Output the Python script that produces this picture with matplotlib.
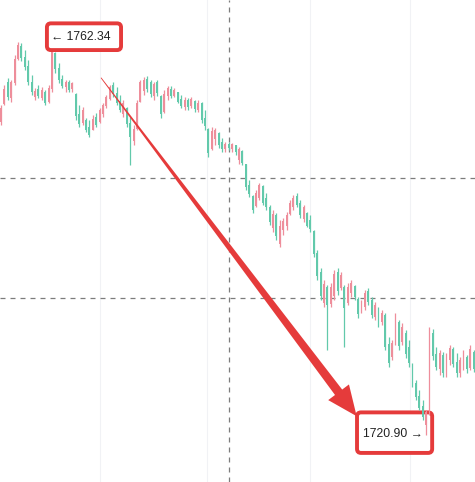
import numpy as np
import matplotlib
matplotlib.use("Agg")
import matplotlib.pyplot as plt
from matplotlib.patches import Polygon, FancyBboxPatch
from matplotlib.transforms import IdentityTransform

# ---------------------------------------------------------------------------
# Candle data (price), red = up, green = down
# ---------------------------------------------------------------------------
opens = [
    1753.8, 1755.6, 1758.0, 1756.3, 1757.8, 1760.4, 1761.7, 1760.6, 1759.6, 1758.0,
    1756.4, 1757.2, 1756.3, 1756.9, 1755.9, 1757.2, 1761.0, 1759.4, 1758.3, 1757.4,
    1758.0, 1757.2, 1756.7, 1754.6, 1753.6, 1754.0, 1753.2, 1752.9, 1754.3, 1753.8,
    1754.6, 1755.4, 1756.2, 1757.6, 1756.8, 1756.0, 1754.6, 1755.2, 1753.6, 1751.8,
    1753.0, 1755.9, 1757.0, 1758.3, 1757.9, 1756.5, 1757.9, 1756.5, 1754.8, 1756.5,
    1757.2, 1756.5, 1756.9, 1756.2, 1755.3, 1756.1, 1755.4, 1756.0, 1755.0, 1755.8,
    1754.2, 1753.0, 1750.9, 1752.0, 1752.6, 1751.7, 1750.9, 1751.5, 1750.9, 1751.3,
    1749.8, 1750.7, 1749.3, 1747.2, 1746.0, 1744.9, 1745.8, 1747.0, 1745.8, 1744.8,
    1742.6, 1744.0, 1741.0, 1742.4, 1742.8, 1744.1, 1744.8, 1746.0, 1745.3, 1743.6,
    1744.2, 1743.5, 1742.3, 1740.0, 1738.0, 1734.8, 1736.5, 1734.7, 1735.5, 1738.0,
    1736.3, 1736.5, 1734.8, 1735.8, 1736.6, 1735.2, 1734.0, 1734.4, 1736.0, 1735.1,
    1733.3, 1734.2, 1732.8, 1733.5, 1730.5, 1729.1, 1730.8, 1732.8, 1730.7, 1731.6,
    1730.2, 1728.4, 1726.4, 1725.0, 1724.0, 1722.0, 1723.3, 1731.6, 1729.4, 1727.9,
    1729.3, 1727.5, 1728.8, 1730.0, 1728.6, 1727.4, 1728.5, 1729.1, 1728.0, 1729.6,
]
highs = [
    1755.5, 1757.6, 1758.4, 1758.2, 1760.8, 1762.1, 1762.0, 1761.3, 1760.3, 1758.7,
    1757.3, 1757.6, 1757.4, 1757.1, 1757.6, 1762.34, 1761.1, 1759.9, 1758.7, 1758.2,
    1758.2, 1758.0, 1756.8, 1755.5, 1755.3, 1754.2, 1754.0, 1754.5, 1754.7, 1755.2,
    1755.7, 1756.6, 1757.6, 1758.0, 1757.4, 1756.6, 1756.1, 1755.3, 1754.3, 1753.4,
    1756.1, 1758.2, 1758.5, 1758.6, 1758.2, 1758.0, 1758.2, 1756.6, 1757.1, 1757.5,
    1757.5, 1757.3, 1756.9, 1756.6, 1756.4, 1756.3, 1756.4, 1756.1, 1756.1, 1755.9,
    1755.0, 1753.1, 1753.2, 1753.1, 1752.7, 1752.1, 1751.7, 1751.7, 1751.6, 1751.3,
    1751.1, 1750.8, 1749.4, 1747.7, 1746.1, 1746.6, 1747.4, 1747.2, 1746.3, 1745.0,
    1744.5, 1744.2, 1743.5, 1743.7, 1744.3, 1745.6, 1746.1, 1746.3, 1745.6, 1745.1,
    1744.3, 1744.0, 1742.4, 1740.3, 1738.4, 1737.2, 1736.7, 1736.9, 1738.2, 1738.4,
    1738.0, 1736.7, 1736.9, 1737.2, 1736.7, 1735.4, 1735.1, 1736.1, 1736.3, 1735.4,
    1734.9, 1734.4, 1734.0, 1733.7, 1731.2, 1730.9, 1733.7, 1733.0, 1732.7, 1731.9,
    1730.9, 1728.5, 1726.7, 1725.7, 1724.6, 1723.6, 1732.3, 1732.0, 1730.2, 1729.8,
    1729.6, 1729.5, 1730.4, 1730.2, 1729.5, 1729.1, 1729.8, 1729.3, 1730.4, 1729.8,
]
lows = [
    1753.4, 1755.5, 1756.1, 1755.9, 1757.6, 1760.3, 1760.2, 1759.2, 1757.6, 1756.6,
    1756.1, 1756.3, 1756.1, 1755.5, 1755.8, 1756.9, 1758.9, 1757.8, 1757.3, 1756.9,
    1756.9, 1756.9, 1754.0, 1753.2, 1753.4, 1752.7, 1752.2, 1752.9, 1753.2, 1753.7,
    1754.3, 1755.2, 1756.1, 1756.4, 1755.5, 1754.8, 1754.3, 1753.2, 1749.2, 1751.3,
    1752.9, 1755.9, 1756.6, 1756.9, 1756.4, 1756.1, 1756.5, 1754.2, 1754.7, 1756.1,
    1756.3, 1756.4, 1755.7, 1755.2, 1755.0, 1755.0, 1755.2, 1754.8, 1754.8, 1753.7,
    1752.9, 1750.1, 1750.8, 1751.3, 1751.0, 1750.6, 1750.6, 1750.8, 1750.6, 1750.3,
    1749.4, 1749.2, 1746.6, 1745.9, 1744.2, 1744.8, 1745.6, 1745.0, 1744.5, 1743.0,
    1742.2, 1741.4, 1740.6, 1741.9, 1742.4, 1744.0, 1744.5, 1744.8, 1743.7, 1743.3,
    1742.7, 1742.2, 1739.6, 1737.2, 1735.1, 1734.4, 1729.8, 1734.4, 1735.1, 1735.6,
    1736.1, 1730.2, 1734.6, 1735.4, 1735.1, 1733.2, 1733.7, 1734.0, 1734.6, 1733.2,
    1733.0, 1732.3, 1732.5, 1729.8, 1728.1, 1728.8, 1730.4, 1729.8, 1730.4, 1729.0,
    1728.1, 1726.0, 1724.6, 1723.5, 1722.5, 1720.90, 1723.0, 1728.8, 1727.7, 1727.2,
    1727.0, 1727.0, 1728.3, 1728.1, 1727.0, 1727.0, 1727.7, 1727.4, 1727.7, 1727.5,
]
closes = [
    1755.2, 1757.2, 1756.4, 1757.9, 1760.4, 1761.8, 1760.5, 1759.5, 1757.9, 1756.9,
    1757.0, 1756.5, 1757.1, 1755.8, 1757.3, 1761.2, 1759.3, 1758.2, 1757.5, 1758.0,
    1757.1, 1757.8, 1754.4, 1753.5, 1755.0, 1752.9, 1752.4, 1754.1, 1753.4, 1755.0,
    1755.5, 1756.4, 1757.4, 1756.7, 1755.8, 1755.0, 1755.7, 1753.5, 1752.2, 1753.0,
    1755.8, 1757.9, 1758.2, 1757.2, 1756.7, 1757.7, 1756.8, 1754.6, 1756.7, 1757.3,
    1756.5, 1757.1, 1755.9, 1755.4, 1756.1, 1755.3, 1756.2, 1755.1, 1755.8, 1754.0,
    1753.3, 1750.5, 1752.8, 1752.9, 1751.3, 1750.9, 1751.5, 1751.0, 1751.4, 1750.6,
    1750.9, 1749.5, 1746.9, 1746.2, 1744.5, 1746.3, 1747.1, 1745.3, 1744.8, 1743.3,
    1744.1, 1741.8, 1742.9, 1743.4, 1744.0, 1745.3, 1745.8, 1745.1, 1744.0, 1744.8,
    1742.9, 1742.5, 1739.9, 1737.6, 1735.5, 1736.8, 1734.6, 1736.5, 1737.8, 1736.0,
    1737.7, 1734.3, 1736.5, 1736.9, 1735.4, 1733.6, 1734.9, 1735.8, 1734.9, 1733.5,
    1734.6, 1732.6, 1733.7, 1730.2, 1728.5, 1730.6, 1733.3, 1730.3, 1732.3, 1729.4,
    1728.5, 1726.3, 1724.9, 1723.8, 1722.8, 1723.3, 1731.5, 1729.2, 1728.1, 1729.5,
    1727.4, 1729.2, 1730.1, 1728.4, 1727.4, 1728.8, 1729.5, 1727.8, 1730.0, 1727.9,
]

HIGH_LABEL = "\u2190 1762.34"
LOW_LABEL = "1720.90 \u2192"

# dashed guide lines and faint grid (price / bar index)
GUIDE_PRICES = [1747.9, 1735.3]
GUIDE_BAR = 67.05
GRID_BARS = [29.1, 60.6, 90.9, 120.3]

UP_COLOR = "#ee8e9b"
DOWN_COLOR = "#62c9ab"
MARK_RED = "#e53b3b"

# ---------------------------------------------------------------------------
fig = plt.figure(figsize=(4.75, 4.82), dpi=100)
ax = fig.add_axes([0, 0, 1, 1])
ax.set_xlim(-0.3, 139.4)
ax.set_ylim(1716.0, 1766.55)
ax.axis("off")

for gx in GRID_BARS:
    ax.axvline(gx, color="#f1f2f5", lw=0.8, zorder=0)
ax.axvline(GUIDE_BAR, color="#7c7c7c", lw=0.9, ls=(0, (4, 4)), zorder=1)
for gp in GUIDE_PRICES:
    ax.axhline(gp, color="#7c7c7c", lw=0.9, ls=(0, (4, 4)), zorder=1)

o = np.array(opens); h = np.array(highs); l = np.array(lows); c = np.array(closes)
idx = np.arange(len(o))
colors = np.where(c >= o, UP_COLOR, DOWN_COLOR)
ax.vlines(idx, l, h, colors=colors, lw=0.9, zorder=2)
body = np.maximum(np.abs(c - o), 0.12)
ax.bar(idx, body, bottom=np.minimum(o, c), width=0.55, color=colors,
       edgecolor="none", zorder=3)

fig.canvas.draw()
to_px = ax.transData.transform

# big tapered arrow from the high towards the low
p0 = to_px((29.4, 1758.4))
p1 = to_px((104.6, 1722.9))
d = (p1 - p0) / np.hypot(*(p1 - p0))
n = np.array([d[1], -d[0]])
head_len, head_w, shaft_w = 30.0, 13.0, 4.5
base = p1 - d * head_len
pts = [p0 + n * 0.4, base + n * shaft_w, base + n * head_w, p1,
       base - n * head_w, base - n * shaft_w, p0 - n * 0.4]
ax.add_patch(Polygon(pts, closed=True, transform=IdentityTransform(),
                     fc=MARK_RED, ec="none", zorder=4))


def label_box(x0, x1, y_top, y_bot, tx, ty, text, z):
    a = to_px((x0, y_bot))
    b = to_px((x1, y_top))
    ax.add_patch(FancyBboxPatch(a, b[0] - a[0], b[1] - a[1],
                                boxstyle="round,pad=0,rounding_size=4",
                                transform=IdentityTransform(), fc="white",
                                ec=MARK_RED, lw=2.8, zorder=z))
    ax.text(tx, ty, text, ha="center", va="center", fontsize=8.8,
            family="Liberation Sans", color="#222222", zorder=6)


label_box(13.5, 35.3, 1764.1, 1761.3, 23.4, 1762.65, HIGH_LABEL, 5)
label_box(104.7, 126.8, 1723.3, 1719.05, 115.3, 1721.0, LOW_LABEL, 1.5)

fig.savefig("out.png", dpi=100)
